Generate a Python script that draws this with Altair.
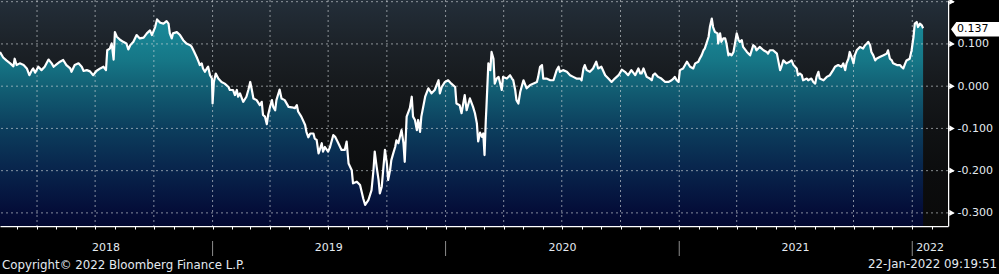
import altair as alt
import pandas as pd

# ---------------- data ----------------
START = "2018-02-02"          # first observation
DOMAIN_END = "2022-02-26"     # right edge of plotting area

# days since START
day_offsets = [
    0, 5, 10, 16, 21, 23, 26, 31, 37, 42, 46, 50, 52, 55, 60, 65, 70, 76, 81, 84, 89, 94, 99, 104, 110,
    112, 117, 123, 128, 131, 136, 141, 146, 151, 157, 162, 166, 168, 172, 175, 178, 180, 183, 188, 193,
    198, 201, 204, 209, 214, 219, 225, 230, 235, 238, 243, 246, 251,
    256, 261, 264, 266, 269, 271, 277, 282, 287, 292, 298, 300, 303, 308, 311, 313, 316, 318, 321, 324,
    326, 329, 332, 333, 335, 338, 342, 347, 352, 358, 360, 365, 368, 371, 373, 376, 381, 386, 389, 392,
    394, 397, 402, 407, 410, 412, 415, 418, 420, 423, 426, 428, 431, 433, 438, 441, 446, 452, 457, 462,
    465, 467, 472, 478, 480, 483, 486, 491, 493, 496, 499,
    501, 504, 506, 509, 514, 517, 522, 525, 530, 535, 540, 543, 546, 551, 553, 559, 564, 569, 572, 577,
    582, 585, 587, 590, 593, 595, 598, 603, 606, 608, 611, 613, 616, 619, 621, 624, 629, 632, 634, 637,
    642, 645, 647, 650, 653, 655, 658, 660, 666, 671, 676, 681, 687, 689, 692, 697, 702, 707, 713, 715,
    720, 723, 728, 731, 736, 741, 744, 747, 749, 752,
    755, 757, 759, 761, 762, 765, 768, 770, 773, 775, 778, 781, 786, 788, 794, 799, 802, 804, 807, 809,
    812, 815, 817, 820, 825, 830, 835, 841, 843, 846, 849, 851, 856, 862, 867, 872, 875, 877, 882, 888,
    893, 898, 903, 909, 911, 914, 916, 919, 924, 929, 934, 937, 942, 948, 953, 958, 963, 969, 974, 979,
    984, 989, 995, 1000, 1003,
    1005, 1008, 1010, 1013, 1018, 1021, 1023, 1026, 1031, 1036, 1042, 1047, 1052, 1055, 1057, 1060, 1063,
    1065, 1070, 1076, 1081, 1086, 1089, 1094, 1096, 1099, 1102, 1104, 1110, 1112, 1115, 1117, 1120, 1124,
    1125, 1128, 1130, 1133, 1136, 1138, 1141, 1143, 1146, 1149, 1154, 1157, 1159, 1162, 1164, 1170, 1175,
    1180, 1183, 1185, 1190, 1196, 1201, 1203, 1206, 1211, 1217, 1222, 1224, 1227, 1232, 1237, 1240, 1243,
    1248, 1250, 1253,
    1256, 1258, 1264, 1266, 1271, 1274, 1277, 1279, 1282, 1284, 1290, 1295, 1300, 1305, 1308, 1313, 1318,
    1321, 1324, 1326, 1329, 1331, 1334, 1337, 1339, 1342, 1347, 1352, 1355, 1358, 1360, 1363, 1365, 1368,
    1371, 1373, 1378, 1384, 1389, 1391, 1394, 1397, 1399, 1405, 1410, 1412, 1415, 1418, 1420, 1425, 1428,
    1431, 1433, 1436, 1438, 1441, 1444, 1446,
]

values = [
    0.081, 0.068, 0.061, 0.054, 0.047, 0.065, 0.050, 0.054, 0.050, 0.042, 0.026, 0.038, 0.042, 0.032, 0.046,
    0.038, 0.046, 0.063, 0.054, 0.046, 0.052, 0.058, 0.062, 0.050, 0.042, 0.034, 0.050, 0.054, 0.046, 0.036,
    0.038, 0.035, 0.026, 0.036, 0.042, 0.046, 0.038, 0.085, 0.089, 0.101, 0.063, 0.128, 0.117, 0.110, 0.105,
    0.101, 0.087, 0.097, 0.105, 0.121, 0.113, 0.115, 0.125, 0.132, 0.121, 0.140, 0.158, 0.150,
    0.148, 0.154, 0.148, 0.125, 0.113, 0.125, 0.128, 0.121, 0.109, 0.101, 0.097, 0.094, 0.085, 0.069, 0.058,
    0.050, 0.054, 0.042, 0.034, 0.042, 0.046, 0.026, 0.018, -0.041, 0.010, 0.030, 0.018, 0.010, 0.006, -0.002,
    -0.009, -0.009, -0.021, -0.009, -0.025, -0.017, -0.037, -0.025, -0.009, 0.010, -0.005, -0.029, -0.033,
    -0.045, -0.037, -0.068, -0.072, -0.090, -0.068, -0.049, -0.033, -0.049, -0.057, -0.033, -0.008, -0.029,
    -0.033, -0.049, -0.050, -0.052, -0.045, -0.060, -0.072, -0.092, -0.108, -0.121, -0.112, -0.112, -0.124,
    -0.127, -0.159,
    -0.150, -0.135, -0.155, -0.144, -0.155, -0.144, -0.116, -0.120, -0.135, -0.151, -0.151, -0.131, -0.183,
    -0.199, -0.230, -0.226, -0.234, -0.266, -0.281, -0.270, -0.246, -0.199, -0.155, -0.191, -0.222, -0.254,
    -0.238, -0.151, -0.183, -0.222, -0.199, -0.175, -0.159, -0.144, -0.128, -0.135, -0.104, -0.135, -0.179,
    -0.072, -0.052, -0.025, -0.072, -0.080, -0.104, -0.080, -0.108, -0.072, -0.025, -0.005, -0.017, -0.009,
    0.014, -0.017, -0.002, 0.010, 0.014, 0.006, -0.002, -0.041, -0.045, -0.064, -0.021, -0.057, -0.029,
    -0.049, -0.064, -0.088, -0.131, -0.110,
    -0.120, -0.112, -0.163, -0.080, -0.049, 0.054, 0.038, 0.081, 0.065, 0.006, 0.018, 0.022, -0.009, 0.022,
    0.018, 0.026, 0.018, 0.014, -0.009, -0.033, -0.041, -0.013, -0.002, 0.014, -0.005, 0.002, 0.006, 0.010,
    0.022, 0.046, 0.050, 0.018, 0.018, 0.014, 0.014, 0.038, 0.046, 0.034, 0.038, 0.034, 0.026, 0.022, 0.018,
    0.018, 0.014, 0.042, 0.050, 0.038, 0.034, 0.042, 0.058, 0.042, 0.046, 0.026, 0.018, 0.010, 0.018, 0.026,
    0.039, 0.034, 0.026, 0.038, 0.026, 0.042, 0.030,
    0.030, 0.042, 0.034, 0.022, 0.018, 0.014, 0.026, 0.030, 0.022, 0.018, 0.010, 0.010, 0.014, 0.018, 0.022,
    0.014, 0.010, 0.038, 0.042, 0.058, 0.046, 0.042, 0.054, 0.058, 0.065, 0.073, 0.085, 0.089, 0.117, 0.140,
    0.160, 0.140, 0.128, 0.125, 0.101, 0.125, 0.105, 0.113, 0.113, 0.101, 0.073, 0.077, 0.073, 0.081, 0.125,
    0.109, 0.105, 0.109, 0.093, 0.081, 0.073, 0.097, 0.093, 0.085, 0.093, 0.085, 0.081, 0.077, 0.085, 0.085,
    0.077, 0.038, 0.046, 0.061, 0.054, 0.058, 0.061, 0.050, 0.042, 0.026, 0.030,
    0.026, 0.014, 0.018, 0.014, 0.018, 0.010, 0.006, 0.022, 0.034, 0.018, 0.014, 0.022, 0.026, 0.038, 0.046,
    0.050, 0.046, 0.054, 0.038, 0.054, 0.065, 0.081, 0.069, 0.054, 0.073, 0.085, 0.093, 0.089, 0.097, 0.101,
    0.105, 0.097, 0.081, 0.073, 0.061, 0.065, 0.069, 0.073, 0.077, 0.085, 0.065, 0.061, 0.054, 0.050, 0.050,
    0.046, 0.042, 0.054, 0.061, 0.065, 0.085, 0.117, 0.148, 0.152, 0.140, 0.148, 0.144, 0.137,
]

quarter_starts = [
    "2018-04-01", "2018-07-01", "2018-10-01", "2019-01-01", "2019-04-01", "2019-07-01", "2019-10-01",
    "2020-01-01", "2020-04-01", "2020-07-01", "2020-10-01", "2021-01-01", "2021-04-01", "2021-07-01",
    "2021-10-01", "2022-01-01",
]
year_labels = ["2018", "2019", "2020", "2021", "2022"]
year_separators = ["2019-01-01", "2020-01-01", "2021-01-01", "2022-01-01"]
grid_values = [-0.3, -0.2, -0.1, 0.0, 0.1, 0.2]
tick_values = [-0.3, -0.25, -0.2, -0.15, -0.1, -0.05, 0.0, 0.05, 0.1, 0.15, 0.2]
last_value_text = "0.137"
last_value = 0.137
footer_left = "Copyright\u00a9 2022 Bloomberg Finance L.P."
footer_right = "22-Jan-2022 09:19:51"

Y_MIN, Y_MAX = -0.331, 0.204

# ---------------- layout / style ----------------
W, H = 948, 226
FONT = "DejaVu Sans"
TXT = "#e4eaf0"

start = pd.Timestamp(START)
dates = [(start + pd.Timedelta(days=d)).strftime("%Y-%m-%d") for d in day_offsets]
df = pd.DataFrame({"date": dates, "value": values})

# year label centres (middle of each year's visible span)
dom_a, dom_b = pd.Timestamp(START), pd.Timestamp(DOMAIN_END)
mids = []
for y in year_labels:
    a = max(dom_a, pd.Timestamp(f"{y}-01-01"))
    b = min(dom_b, pd.Timestamp(f"{int(y) + 1}-01-01"))
    mids.append((a + (b - a) / 2).strftime("%Y-%m-%d"))
years_df = pd.DataFrame({"year": year_labels, "mid": mids})

xscale = alt.Scale(
    type="utc",
    domain=[alt.DateTime(year=2018, month=2, date=2, utc=True),
            alt.DateTime(year=2022, month=2, date=26, utc=True)],
)
yscale = alt.Scale(domain=[Y_MIN, Y_MAX], nice=False, zero=False)

label_expr = (
    "(abs(datum.value*10 - round(datum.value*10)) < 0.001 && datum.value < 0.15) ? "
    "(datum.value < -0.0001 ? '-' + format(-datum.value, '.3f') : format(abs(datum.value), '.3f')) : ''"
)

XAXIS = alt.Axis(
    orient="bottom", labels=False, title=None, grid=False,
    tickCount={"interval": "month", "step": 1}, tickSize=3,
    tickColor="white", domainColor="white", domainWidth=1.5,
)
YAXIS = alt.Axis(
    orient="right", values=tick_values, title=None, grid=False,
    tickSize=5, tickColor="white", domainColor="white", domainWidth=1.5,
    labelExpr=label_expr, labelFont=FONT, labelFontSize=11, labelColor=TXT,
    labelPadding=4, labelOverlap=False, labelBound=False, labelFlush=False,
)

bg_gradient = {
    "gradient": "linear", "x1": 0, "x2": 0, "y1": 0, "y2": 1,
    "stops": [
        {"offset": 0.0, "color": "#232e39"},
        {"offset": 0.2, "color": "#1c2228"},
        {"offset": 0.38, "color": "#16191c"},
        {"offset": 0.57, "color": "#101214"},
        {"offset": 0.76, "color": "#0c0d0e"},
        {"offset": 1.0, "color": "#0a0a0a"},
    ],
}
area_gradient = {
    "gradient": "linear", "x1": 0, "x2": 0, "y1": 0, "y2": 1,
    "stops": [
        {"offset": 0.0, "color": "#1a8c9b"},
        {"offset": 0.2, "color": "#167787"},
        {"offset": 0.33, "color": "#125f74"},
        {"offset": 0.53, "color": "#0c3e5d"},
        {"offset": 0.74, "color": "#08234b"},
        {"offset": 0.94, "color": "#040c37"},
        {"offset": 1.0, "color": "#020830"},
    ],
}

one = pd.DataFrame({"k": [0]})

bg = alt.Chart(one).mark_rect(color=bg_gradient).encode(
    x=alt.value(0), x2=alt.value(W), y=alt.value(0), y2=alt.value(H)
)

area = alt.Chart(df).mark_area(color=area_gradient).encode(
    x=alt.X("date:T", scale=xscale, axis=XAXIS),
    y=alt.Y("value:Q", scale=yscale, axis=YAXIS),
    y2=alt.datum(Y_MIN),
)

grid_style = dict(color="#d4d8dc", opacity=0.62, strokeDash=[2, 3], strokeWidth=1)
hgrid = alt.Chart(pd.DataFrame({"v": grid_values})).mark_rule(**grid_style).encode(
    y=alt.Y("v:Q", scale=yscale, axis=YAXIS)
)
vgrid = alt.Chart(pd.DataFrame({"d": quarter_starts})).mark_rule(**grid_style).encode(
    x=alt.X("d:T", scale=xscale, axis=XAXIS)
)

line = alt.Chart(df).mark_line(color="white", strokeWidth=2.2, strokeJoin="round").encode(
    x=alt.X("date:T", scale=xscale, axis=XAXIS),
    y=alt.Y("value:Q", scale=yscale, axis=YAXIS),
)

triangles = alt.Chart(pd.DataFrame({"v": grid_values})).mark_point(
    shape="triangle-right", filled=True, color="white", opacity=1, size=40
).encode(x=alt.value(W + 4), y=alt.Y("v:Q", scale=yscale, axis=YAXIS))

flag = alt.Chart(one).mark_point(
    shape="M -1 0 L -0.78 -0.3 L 1 -0.3 L 1 0.3 L -0.78 0.3 Z",
    filled=True, color="white", opacity=1, size=2304, yOffset=1,
).encode(x=alt.value(W + 27), y=alt.datum(last_value))

flag_text = alt.Chart(pd.DataFrame({"t": [last_value_text]})).mark_text(
    align="left", baseline="middle", font=FONT, fontSize=11, color="black", dy=1
).encode(x=alt.value(W + 9), y=alt.datum(last_value), text="t:N")

year_text = alt.Chart(years_df).mark_text(
    align="center", baseline="middle", font=FONT, fontSize=11, color=TXT
).encode(x=alt.X("mid:T", scale=xscale, axis=XAXIS), y=alt.value(248), text="year:N")

year_sep = alt.Chart(pd.DataFrame({"d": year_separators})).mark_rule(
    color="#8c8c8c", strokeWidth=1
).encode(x=alt.X("d:T", scale=xscale, axis=XAXIS), y=alt.value(241), y2=alt.value(256))

foot_l = alt.Chart(pd.DataFrame({"t": [footer_left]})).mark_text(
    align="left", baseline="middle", font=FONT, fontSize=11.8, color=TXT
).encode(x=alt.value(2), y=alt.value(265), text="t:N")

foot_r = alt.Chart(pd.DataFrame({"t": [footer_right]})).mark_text(
    align="right", baseline="middle", font=FONT, fontSize=11.8, color=TXT
).encode(x=alt.value(W + 49), y=alt.value(264), text="t:N")

chart = alt.layer(
    bg, area, hgrid, vgrid, line, triangles, flag, flag_text, year_sep, year_text, foot_l, foot_r
).properties(
    width=W, height=H,
    background="black",
    padding={"left": 0, "top": 0, "right": 51, "bottom": 48},
    autosize=alt.AutoSizeParams(type="none"),
).configure_view(stroke=None)

chart.save("out.html", embed_options={"renderer": "svg", "actions": False})
